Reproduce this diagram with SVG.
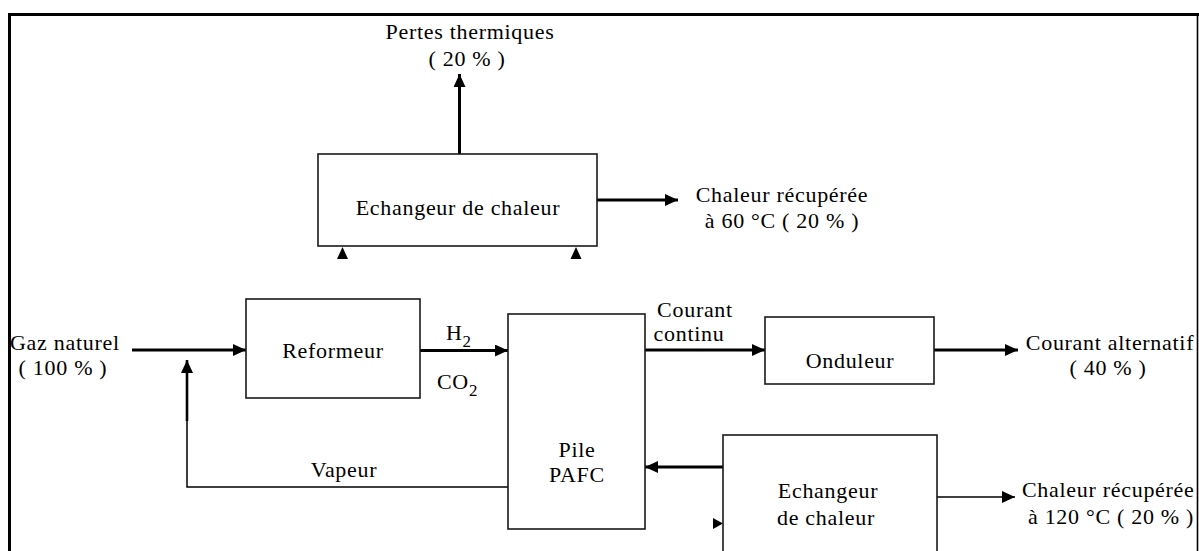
<svg xmlns="http://www.w3.org/2000/svg" width="1199" height="551" viewBox="0 0 1199 551">
<style>
text{font-family:"Liberation Serif","Times New Roman",serif;font-size:22px;fill:#000;letter-spacing:0.7px}
.m{text-anchor:middle}
.sub{font-size:17px}
.box{fill:#fff;stroke:#1a1a1a;stroke-width:1.6}
.thick{fill:none;stroke:#000;stroke-width:3}
.thin{fill:none;stroke:#000;stroke-width:1.5}
.tri{fill:#000}
</style>
<defs>
<marker id="ah" viewBox="0 0 13 12" markerUnits="userSpaceOnUse" markerWidth="13" markerHeight="12" refX="13" refY="6" orient="auto">
<path d="M0,0 L13,6 L0,12 z" fill="#000"/>
</marker>
</defs>
<rect width="1199" height="551" fill="#fff"/>
<g id="frame">
<path d="M9.5,551 L9.5,14.5 L1199,14.5" fill="none" stroke="#000" stroke-width="3"/>
<line x1="1197.5" y1="14" x2="1197.5" y2="551" stroke="#000" stroke-width="1.6"/>
</g>
<g id="connectors">
<line class="thick" x1="459.5" y1="154" x2="459.5" y2="74" marker-end="url(#ah)"/>
<line class="thick" x1="597" y1="200" x2="678" y2="200" marker-end="url(#ah)"/>
<line class="thick" x1="132" y1="350" x2="246" y2="350" marker-end="url(#ah)"/>
<path class="thin" d="M508,487 L187,487 L187,420"/>
<line x1="187" y1="421" x2="187" y2="360" stroke="#000" stroke-width="2.6" marker-end="url(#ah)"/>
<line class="thick" x1="420" y1="350.5" x2="508" y2="350.5" marker-end="url(#ah)"/>
<line class="thick" x1="645" y1="350" x2="765" y2="350" marker-end="url(#ah)"/>
<line class="thick" x1="934" y1="350" x2="1018" y2="350" marker-end="url(#ah)"/>
<line class="thick" x1="723" y1="467" x2="645" y2="467" marker-end="url(#ah)"/>
<line class="thin" x1="937" y1="497" x2="1015" y2="497" marker-end="url(#ah)"/>
<path class="tri" d="M342.5,247 L348,259 L337,259 z"/>
<path class="tri" d="M576,247 L581.5,259 L570.5,259 z"/>
<path class="tri" d="M723,523.5 L713,529 L713,518 z"/>
</g>
<g id="pertes">
<text class="m" x="470" y="39">Pertes thermiques</text>
<text class="m" x="467" y="66">( 20 % )</text>
</g>
<g id="echangeur-haut">
<rect class="box" x="318" y="154" width="279" height="92"/>
<text class="m" x="458" y="215">Echangeur de chaleur</text>
</g>
<g id="chaleur60">
<text class="m" x="782" y="202">Chaleur récupérée</text>
<text class="m" x="782" y="228">à 60 °C ( 20 % )</text>
</g>
<g id="gaz">
<text x="10" y="350">Gaz naturel</text>
<text class="m" x="63" y="375">( 100 % )</text>
</g>
<g id="reformeur">
<rect class="box" x="246" y="299" width="174" height="99"/>
<text class="m" x="333" y="358">Reformeur</text>
</g>
<g id="h2co2">
<text x="446" y="340">H<tspan class="sub" dy="7">2</tspan></text>
<text x="437" y="389">CO<tspan class="sub" dy="7">2</tspan></text>
</g>
<g id="vapeur">
<text class="m" x="344" y="477">Vapeur</text>
</g>
<g id="pile">
<rect class="box" x="508" y="314" width="137" height="215"/>
<text class="m" x="577" y="457">Pile</text>
<text class="m" x="577" y="482">PAFC</text>
</g>
<g id="courant-continu">
<text class="m" x="695" y="317">Courant</text>
<text class="m" x="689" y="341">continu</text>
</g>
<g id="onduleur">
<rect class="box" x="765" y="317" width="169" height="67"/>
<text class="m" x="850" y="368">Onduleur</text>
</g>
<g id="courant-alternatif">
<text class="m" x="1110" y="350">Courant alternatif</text>
<text class="m" x="1108" y="375">( 40 % )</text>
</g>
<g id="echangeur-bas">
<rect class="box" x="723" y="435" width="214" height="130"/>
<text class="m" x="828" y="498">Echangeur</text>
<text class="m" x="826" y="525">de chaleur</text>
</g>
<g id="chaleur120">
<text x="1022" y="497">Chaleur récupérée</text>
<text x="1028" y="524">à 120 °C ( 20 % )</text>
</g>
</svg>
